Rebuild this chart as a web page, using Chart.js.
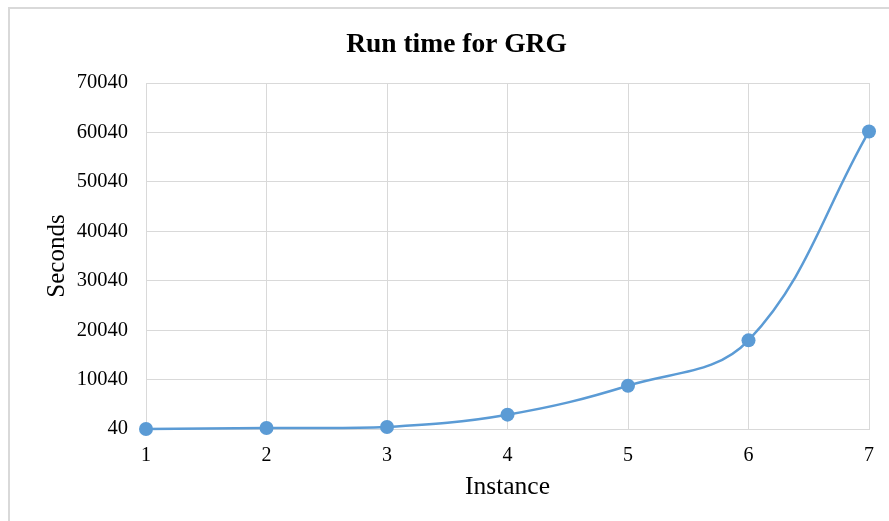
<!DOCTYPE html>
<html>
<head>
<meta charset="utf-8">
<script src="https://cdn.jsdelivr.net/npm/chart.js@4/dist/chart.umd.min.js"></script>
<style>
  html, body { margin: 0; padding: 0; background: #fff; }
  #wrap { position: relative; width: 889px; height: 521px; overflow: hidden; }
  #frame { position: absolute; left: 8px; top: 7px; width: 900px; height: 600px;
           border-left: 2px solid #d9d9d9; border-top: 2px solid #d9d9d9; box-sizing: border-box; }
  canvas { position: absolute; left: 0; top: 0; }
</style>
</head>
<body>
<div id="wrap">
  <div id="frame"></div>
  <canvas id="c" width="889" height="521"></canvas>
</div>
<script>
// Run time (seconds) per instance
const instances = ['1', '2', '3', '4', '5', '6', '7'];
const seconds = [40, 240, 450, 2940, 8800, 17980, 60240];
const yTickValues = [40, 10040, 20040, 30040, 40040, 50040, 60040, 70040];

const serif = "'Liberation Serif', 'Times New Roman', serif";
const gridColor = '#d9d9d9';

new Chart(document.getElementById('c'), {
  type: 'line',
  data: {
    labels: instances,
    datasets: [{
      label: 'Run time',
      data: seconds,
      borderColor: '#5b9bd5',
      backgroundColor: '#5b9bd5',
      borderWidth: 2.5,
      pointRadius: 7,
      pointHoverRadius: 7,
      pointBorderWidth: 0,
      tension: 0.38,
      fill: false,
      clip: false
    }]
  },
  options: {
    responsive: false,
    animation: false,
    layout: { padding: { left: 42, right: 18, top: 6, bottom: 18 } },
    plugins: {
      legend: { display: false },
      tooltip: { enabled: false },
      title: {
        display: true,
        text: 'Run time for GRG',
        color: '#000',
        font: { family: serif, size: 27.5, weight: 'bold' },
        padding: { top: 22, bottom: 22 }
      }
    },
    scales: {
      x: {
        type: 'category',
        offset: false,
        grid: { color: gridColor, drawTicks: false },
        border: { color: gridColor },
        ticks: { color: '#000', font: { family: serif, size: 20 }, padding: 15 },
        title: {
          display: true, text: 'Instance', color: '#000',
          font: { family: serif, size: 25.5 }, padding: { top: 4, bottom: 0 }
        },
        afterFit: (s) => { s.height = 74; }
      },
      y: {
        type: 'linear',
        min: 40,
        max: 70040,
        afterBuildTicks: (s) => { s.ticks = yTickValues.map(v => ({ value: v })); },
        grid: { color: gridColor, drawTicks: false },
        border: { color: gridColor },
        ticks: { color: '#000', font: { family: serif, size: 20.5 }, padding: 18,
                 callback: (v) => String(v) },
        title: {
          display: true, text: 'Seconds', color: '#000',
          font: { family: serif, size: 25 }, padding: { top: 0, bottom: 0 }
        },
        afterFit: (s) => { s.width = 104; }
      }
    }
  }
});
</script>
</body>
</html>
